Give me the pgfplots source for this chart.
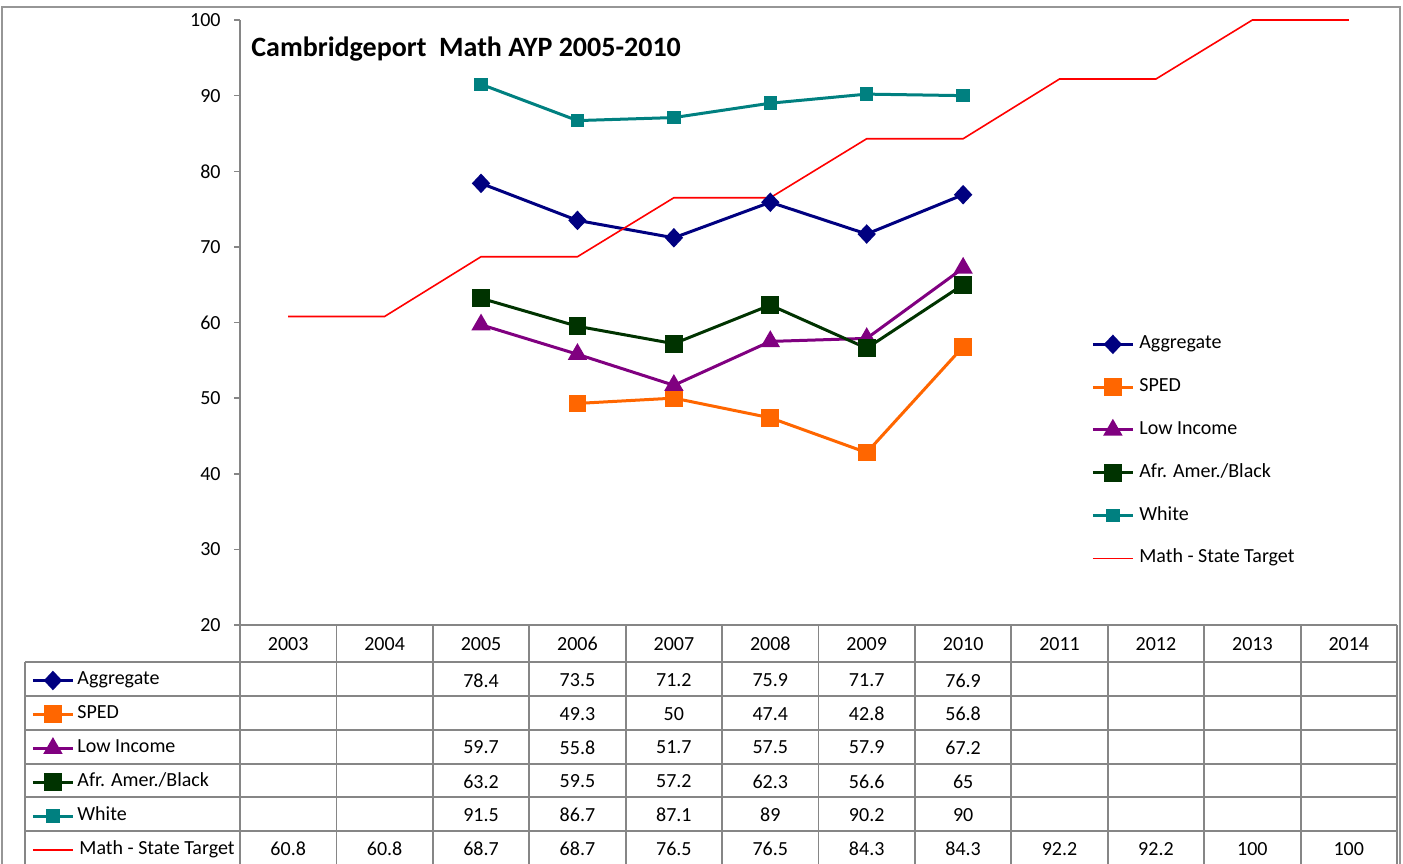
\documentclass[border=0pt]{standalone}
\usepackage{pgfplots}
\pgfplotsset{compat=1.18}
\usepackage{fontspec}
\setmainfont{Carlito}

\definecolor{agg}{RGB}{0,0,128}
\definecolor{sped}{RGB}{255,102,0}
\definecolor{lowinc}{RGB}{128,0,128}
\definecolor{afr}{RGB}{0,51,0}
\definecolor{wht}{RGB}{0,128,128}
\definecolor{tgt}{RGB}{255,0,0}
\definecolor{gridc}{RGB}{134,134,134}
\definecolor{framec}{RGB}{150,150,150}

\pgfplotsset{
  aggstyle/.style={agg, line width=1.5pt, mark=diamond*, mark size=3.8pt, mark options={solid, xscale=1.25, fill=agg}},
  spedstyle/.style={sped, line width=1.5pt, mark=square*, mark size=3.7pt, mark options={solid, fill=sped}},
  lowstyle/.style={lowinc, line width=1.5pt, mark=triangle*, mark size=4.1pt, mark options={solid, fill=lowinc}},
  afrstyle/.style={afr, line width=1.5pt, mark=square*, mark size=3.7pt, mark options={solid, fill=afr}},
  whtstyle/.style={wht, line width=1.5pt, mark=square*, mark size=2.6pt, mark options={solid, fill=wht}},
  tgtstyle/.style={tgt, line width=0.8pt, no markers},
  myimg/.style={legend image code/.code={\draw[mark repeat=2,mark phase=2] plot coordinates {(0pt,0pt) (10pt,0pt) (20pt,0pt)};}},
}

\begin{document}
\begin{tikzpicture}
\useasboundingbox (0,0) rectangle (701.5pt,431.5pt);
\clip (0,0) rectangle (701.5pt,431.5pt);

\begin{axis}[
  at={(120pt,119pt)}, anchor=south west,
  width=578.5pt, height=302.5pt, scale only axis,
  xmin=-0.5, xmax=11.5, ymin=20, ymax=100,
  axis x line=bottom, axis y line=left,
  axis line style={-, draw=gridc, line width=0.75pt},
  xtick=\empty,
  ytick={20,30,...,100},
  tick align=outside, major tick length=3pt,
  ytick style={draw=gridc, line width=0.75pt},
  yticklabel style={font=\fontsize{10}{12}\selectfont, anchor=east, inner sep=0pt, xshift=-6.5pt},
  /pgf/number format/assume math mode=true,
  clip=false,
  myimg,
  legend cell align=left,
  legend style={at={(0.7355,0.2870)}, anchor=west, draw=none, fill=none, inner sep=0pt,
    row sep=11.9pt, column sep=2.5pt,
    nodes={inner sep=0pt, text height=7pt, text depth=2.5pt, font=\fontsize{10}{12}\selectfont}},
]
\addplot[aggstyle] coordinates {(2,78.4) (3,73.5) (4,71.2) (5,75.9) (6,71.7) (7,76.9)};
\addlegendentry{Aggregate}
\addplot[spedstyle] coordinates {(3,49.3) (4,50) (5,47.4) (6,42.8) (7,56.8)};
\addlegendentry{SPED}
\addplot[lowstyle] coordinates {(2,59.7) (3,55.8) (4,51.7) (5,57.5) (6,57.9) (7,67.2)};
\addlegendentry{Low Income}
\addplot[afrstyle] coordinates {(2,63.2) (3,59.5) (4,57.2) (5,62.3) (6,56.6) (7,65)};
\addlegendentry{Afr. Amer./Black}
\addplot[whtstyle] coordinates {(2,91.5) (3,86.7) (4,87.1) (5,89) (6,90.2) (7,90)};
\addlegendentry{White}
\addplot[tgtstyle] coordinates {(0,60.8) (1,60.8) (2,68.7) (3,68.7) (4,76.5) (5,76.5) (6,84.3) (7,84.3) (8,92.2) (9,92.2) (10,100) (11,100)};
\addlegendentry{Math - State Target}
\end{axis}

% table row labels as a legend
\begin{axis}[
  at={(120pt,119pt)}, anchor=south west,
  width=578.5pt, height=302.5pt, scale only axis,
  hide axis, xmin=0, xmax=1, ymin=0, ymax=1,
  myimg,
  legend cell align=left,
  legend style={at={(-0.1806,-0.2318)}, anchor=west, draw=none, fill=none, inner sep=0pt,
    row sep=7.45pt, column sep=1.5pt,
    nodes={inner sep=0pt, text height=7pt, text depth=2.5pt, font=\fontsize{10}{12}\selectfont}},
]
\addlegendimage{aggstyle}
\addlegendentry{Aggregate}
\addlegendimage{spedstyle}
\addlegendentry{SPED}
\addlegendimage{lowstyle}
\addlegendentry{Low Income}
\addlegendimage{afrstyle}
\addlegendentry{Afr. Amer./Black}
\addlegendimage{whtstyle}
\addlegendentry{White}
\addlegendimage{tgtstyle}
\addlegendentry{\hspace{1pt}Math - State Target}
\end{axis}

\begin{scope}[x=0.5pt, y=-0.5pt, shift={(0pt,431.5pt)}]
  % title
  \node[anchor=base west, inner sep=0pt, font=\fontsize{14}{16}\selectfont\bfseries] at (251,57) {Cambridgeport\ \ Math AYP 2005-2010};
  % outer frame
  \draw[framec, line width=1pt] (2,7.5) rectangle (1400,900);
  % table grid
  \draw[gridc, line width=0.9pt] (240,625) -- (1397,625);
  \foreach \yy in {662,696,730,764,797,831,865}
    \draw[gridc, line width=0.9pt] (25,\yy) -- (1397,\yy);
  \draw[gridc, line width=0.9pt] (25,662) -- (25,900);
  \foreach \k in {0,...,12}
    \draw[gridc, line width=0.9pt] ({240+96.417*\k},625) -- ({240+96.417*\k},900);
  % header years
  \foreach \yr [count=\i from 0] in {2003,2004,2005,2006,2007,2008,2009,2010,2011,2012,2013,2014}
    \node[font=\fontsize{10}{12}\selectfont] at ({240+96.417*(\i+0.5)},644) {\yr};
  % values
  \foreach \i/\v in {2/78.4,3/73.5,4/71.2,5/75.9,6/71.7,7/76.9}
    \node[font=\fontsize{10}{12}\selectfont] at ({240+96.417*(\i+0.5)},680.5) {\v};
  \foreach \i/\v in {3/49.3,4/50,5/47.4,6/42.8,7/56.8}
    \node[font=\fontsize{10}{12}\selectfont] at ({240+96.417*(\i+0.5)},714) {\v};
  \foreach \i/\v in {2/59.7,3/55.8,4/51.7,5/57.5,6/57.9,7/67.2}
    \node[font=\fontsize{10}{12}\selectfont] at ({240+96.417*(\i+0.5)},747.5) {\v};
  \foreach \i/\v in {2/63.2,3/59.5,4/57.2,5/62.3,6/56.6,7/65}
    \node[font=\fontsize{10}{12}\selectfont] at ({240+96.417*(\i+0.5)},781.5) {\v};
  \foreach \i/\v in {2/91.5,3/86.7,4/87.1,5/89,6/90.2,7/90}
    \node[font=\fontsize{10}{12}\selectfont] at ({240+96.417*(\i+0.5)},815) {\v};
  \foreach \i/\v in {0/60.8,1/60.8,2/68.7,3/68.7,4/76.5,5/76.5,6/84.3,7/84.3,8/92.2,9/92.2,10/100,11/100}
    \node[font=\fontsize{10}{12}\selectfont] at ({240+96.417*(\i+0.5)},849) {\v};
\end{scope}
\end{tikzpicture}
\end{document}
